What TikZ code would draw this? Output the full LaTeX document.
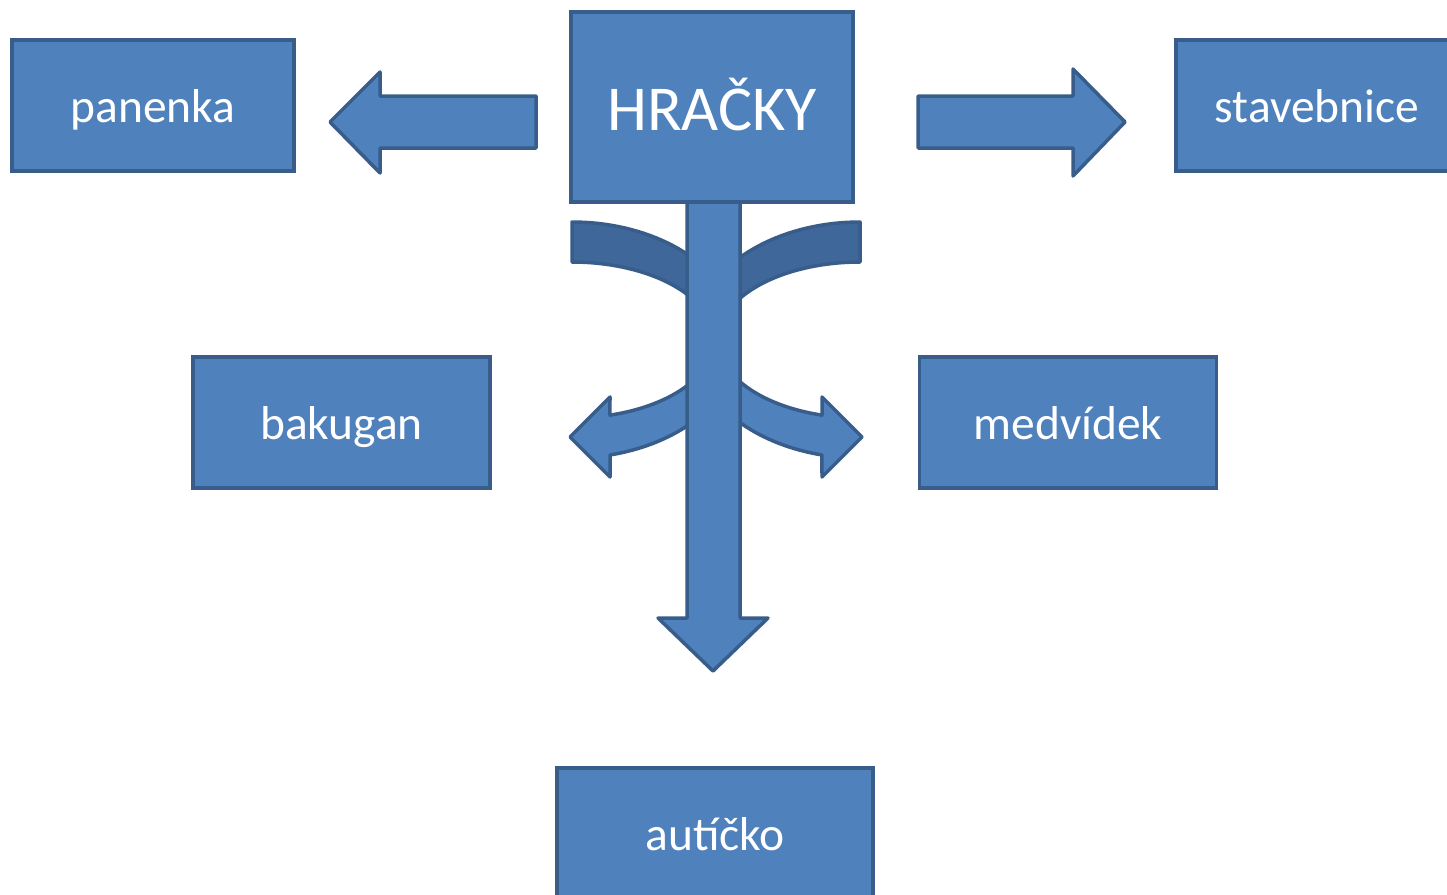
\documentclass[tikz,border=0pt]{standalone}
\usepackage{fontspec}
\setmainfont{Carlito}
\definecolor{boxblue}{RGB}{79,129,189}
\definecolor{edgeblue}{RGB}{56,93,138}
\definecolor{backblue}{RGB}{63,103,153}
\begin{document}
\begin{tikzpicture}[x=1pt, y=-1pt,
  box/.style={draw=edgeblue, fill=boxblue, line width=3.5pt, text=white, inner sep=0pt,
    minimum height=131pt, text height=40pt, text depth=6pt, font=\fontsize{47.5}{57}\selectfont},
  blockarrow/.style={draw=edgeblue, fill=boxblue, line width=3.5pt, line join=round},
  backband/.style={draw=edgeblue, fill=backblue, line width=3.5pt, line join=round}]
\useasboundingbox (0,0) rectangle (1447,894);

\draw[backband] plot[domain=90:0, samples=40, variable=\t] ({572+168*cos(\t)}, {340-118*sin(\t)})
  -- plot[domain=0:90, samples=40, variable=\t] ({572+142*cos(\t)}, {340-78*sin(\t)}) -- cycle;
\draw[backband] plot[domain=90:0, samples=40, variable=\t] ({860-168*cos(\t)}, {340-118*sin(\t)})
  -- plot[domain=0:90, samples=40, variable=\t] ({860-142*cos(\t)}, {340-78*sin(\t)}) -- cycle;

\draw[blockarrow] plot[domain=0:-76.9, samples=40, variable=\t] ({572+168*cos(\t)}, {340-118*sin(\t)})
  -- (610,477) -- (570,437) -- (610,397)
  -- plot[domain=-74.5:0, samples=40, variable=\t] ({572+142*cos(\t)}, {340-78*sin(\t)}) -- cycle;
\draw[blockarrow] plot[domain=0:-76.9, samples=40, variable=\t] ({860-168*cos(\t)}, {340-118*sin(\t)})
  -- (822,477) -- (862,437) -- (822,397)
  -- plot[domain=-74.5:0, samples=40, variable=\t] ({860-142*cos(\t)}, {340-78*sin(\t)}) -- cycle;

\draw[blockarrow] (687,200) -- (740,200) -- (740,618) -- (768,618) -- (713,671)
  -- (658,618) -- (687,618) -- cycle;

\node[box, minimum width=282pt, minimum height=190pt, text height=50pt, text depth=4pt,
  font=\fontsize{64}{76}\selectfont] (hracky) at (712,107) {HRAČKY};
\node[box, minimum width=282pt] (panenka) at (153,105.5) {panenka};
\node[box, minimum width=282pt] (stavebnice) at (1317,105.5) {stavebnice};
\node[box, minimum width=297pt] (bakugan) at (341.5,422.5) {bakugan};
\node[box, minimum width=297pt] (medvidek) at (1068,422.5) {medvídek};
\node[box, minimum width=316pt, minimum height=130pt] (auticko) at (715,833) {autíčko};

\draw[blockarrow] (536,96) -- (380,96) -- (380,72) -- (330,122) -- (380,173)
  -- (380,148) -- (536,148) -- cycle;
\draw[blockarrow] (918,96) -- (1073,96) -- (1073,69) -- (1125,122) -- (1073,176)
  -- (1073,148) -- (918,148) -- cycle;
\end{tikzpicture}
\end{document}
